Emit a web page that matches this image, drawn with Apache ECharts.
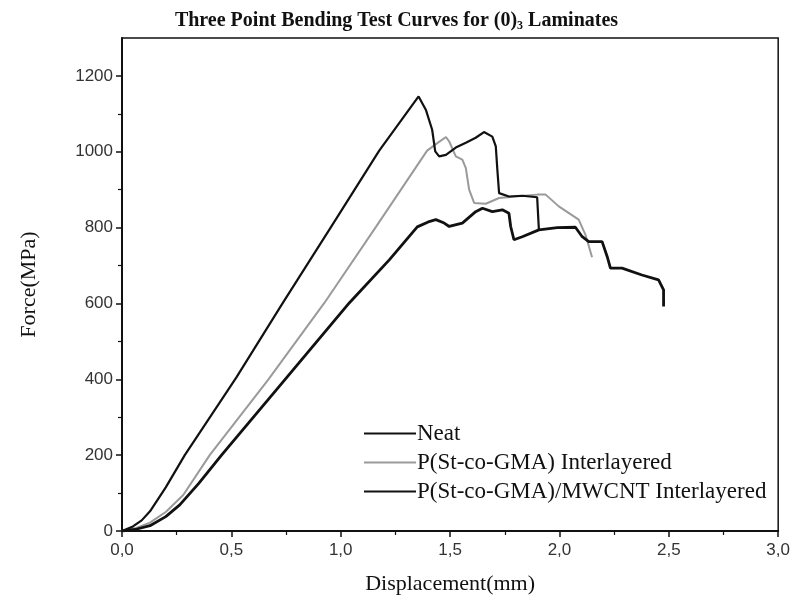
<!DOCTYPE html>
<html>
<head>
<meta charset="utf-8">
<script src="https://cdn.jsdelivr.net/npm/echarts@6/dist/echarts.min.js"></script>
<style>
html,body{margin:0;padding:0;background:#fff;}
#chart{width:793px;height:606px;}
</style>
</head>
<body>
<div id="chart"></div>
<script>
// Series names (legend)
const seriesNames = ['Neat', 'P(St-co-GMA) Interlayered', 'P(St-co-GMA)/MWCNT Interlayered'];

// Displacement (mm), Force (MPa) pairs
const neatCurve = [
  [0,0],[0.06,4],[0.128,14],[0.2,38],[0.264,69],[0.35,125],[0.455,200],[0.743,398],[1.04,602],
  [1.222,715],[1.35,802],[1.40,815],[1.435,821],[1.473,812],[1.496,803],
  [1.556,812],[1.617,842],[1.648,851],[1.693,842],[1.739,847],[1.769,838],[1.777,803],[1.792,768],
  [1.83,776],[1.906,794],[1.99,800],[2.073,801],[2.104,776],[2.134,763],[2.195,763],[2.218,724],
  [2.233,693],[2.286,693],[2.377,675],[2.453,662],[2.476,636],[2.476,592]
];
const gmaCurve = [
  [0,0],[0.06,7],[0.128,22],[0.2,50],[0.28,95],[0.401,200],[0.667,398],[0.926,602],
  [1.161,802],[1.395,1003],[1.44,1022],[1.481,1039],[1.496,1027],[1.526,988],
  [1.556,979],[1.572,957],[1.587,900],[1.61,865],[1.663,863],[1.724,878],[1.8,882],[1.898,887],
  [1.937,887],[1.997,856],[2.088,821],[2.119,781],[2.149,722]
];
const mwcntCurve = [
  [0,0],[0.05,12],[0.09,28],[0.128,52],[0.2,115],[0.287,200],[0.523,405],[0.736,602],[0.956,802],
  [1.176,1003],[1.356,1146],[1.389,1111],
  [1.418,1058],[1.432,1001],[1.45,988],[1.481,992],[1.526,1011],[1.572,1024],[1.617,1037],
  [1.655,1052],[1.693,1040],[1.709,1014],[1.716,953],[1.724,891],[1.769,882],[1.83,884],
  [1.898,880],[1.906,794]
];

// Axis ticks
const yMajorTicks = [0,200,400,600,800,1000,1200];
const yMinorTicks = [100,300,500,700,900,1100];

const serif = 'Liberation Serif';
const sans = 'Liberation Sans';

const chart = echarts.init(document.getElementById('chart'), null, {renderer:'canvas'});
chart.setOption({
  animation: false,
  backgroundColor: '#fff',
  title: {
    text: 'Three Point Bending Test Curves for (0){sub|3} Laminates',
    left: 'center',
    top: 4,
    textStyle: {
      fontFamily: serif, fontWeight: 'bold', fontSize: 20, color: '#111',
      rich: {
        sub: {fontFamily: serif, fontWeight: 'bold', fontSize: 12, color: '#111', verticalAlign: 'bottom', padding: [11,0,0,0]}
      }
    }
  },
  legend: {
    orient: 'vertical',
    left: 358, top: 417,
    itemWidth: 52, itemHeight: 12, itemGap: 6,
    data: seriesNames,
    itemStyle: {opacity: 0},
    textStyle: {fontFamily: serif, fontSize: 23, color: '#111', padding: [0,0,0,-4]}
  },
  grid: {
    left: 122, right: 13, top: 38, bottom: 75,
    show: true, borderColor: '#111', borderWidth: 1.5, backgroundColor: 'transparent'
  },
  xAxis: {
    type: 'value', min: 0, max: 3, interval: 0.5,
    name: 'Displacement(mm)', nameLocation: 'middle', nameGap: 42,
    nameTextStyle: {fontFamily: serif, fontSize: 22, color: '#111'},
    axisLine: {lineStyle: {color: '#111', width: 2}},
    axisTick: {length: 6, lineStyle: {color: '#111', width: 1.5}},
    minorTick: {show: true, splitNumber: 2, length: 4, lineStyle: {color: '#111', width: 1.2}},
    splitLine: {show: false},
    axisLabel: {fontFamily: sans, fontSize: 17, color: '#333', margin: 11,
      formatter: v => v.toFixed(1).replace('.', ',')}
  },
  yAxis: [{
    type: 'value', min: 0, max: 1300,
    name: 'Force(MPa)', nameLocation: 'middle', nameGap: 82, nameRotate: 90,
    nameTextStyle: {fontFamily: serif, fontSize: 22, color: '#111'},
    axisLine: {show: true, lineStyle: {color: '#111', width: 2}},
    axisTick: {show: true, length: 6, customValues: yMajorTicks, lineStyle: {color: '#111', width: 1.5}},
    splitLine: {show: false},
    axisLabel: {fontFamily: sans, fontSize: 17, color: '#333', margin: 9, customValues: yMajorTicks,
      formatter: v => String(Math.round(v))}
  }, {
    type: 'value', min: 0, max: 1300, position: 'left', offset: 0,
    axisLine: {show: false},
    axisTick: {show: true, length: 4, customValues: yMinorTicks, lineStyle: {color: '#111', width: 1.2}},
    axisLabel: {show: false},
    splitLine: {show: false}
  }],
  series: [
    {name: seriesNames[1], type: 'line', data: gmaCurve, symbol: 'none', z: 2,
      lineStyle: {color: '#9a9a9a', width: 2}, itemStyle: {color: '#9a9a9a'}},
    {name: seriesNames[0], type: 'line', data: neatCurve, symbol: 'none', z: 3,
      lineStyle: {color: '#111', width: 2.8}, itemStyle: {color: '#111'}},
    {name: seriesNames[2], type: 'line', data: mwcntCurve, symbol: 'none', z: 3,
      lineStyle: {color: '#111', width: 2.2}, itemStyle: {color: '#111'}}
  ]
});
</script>
</body>
</html>
